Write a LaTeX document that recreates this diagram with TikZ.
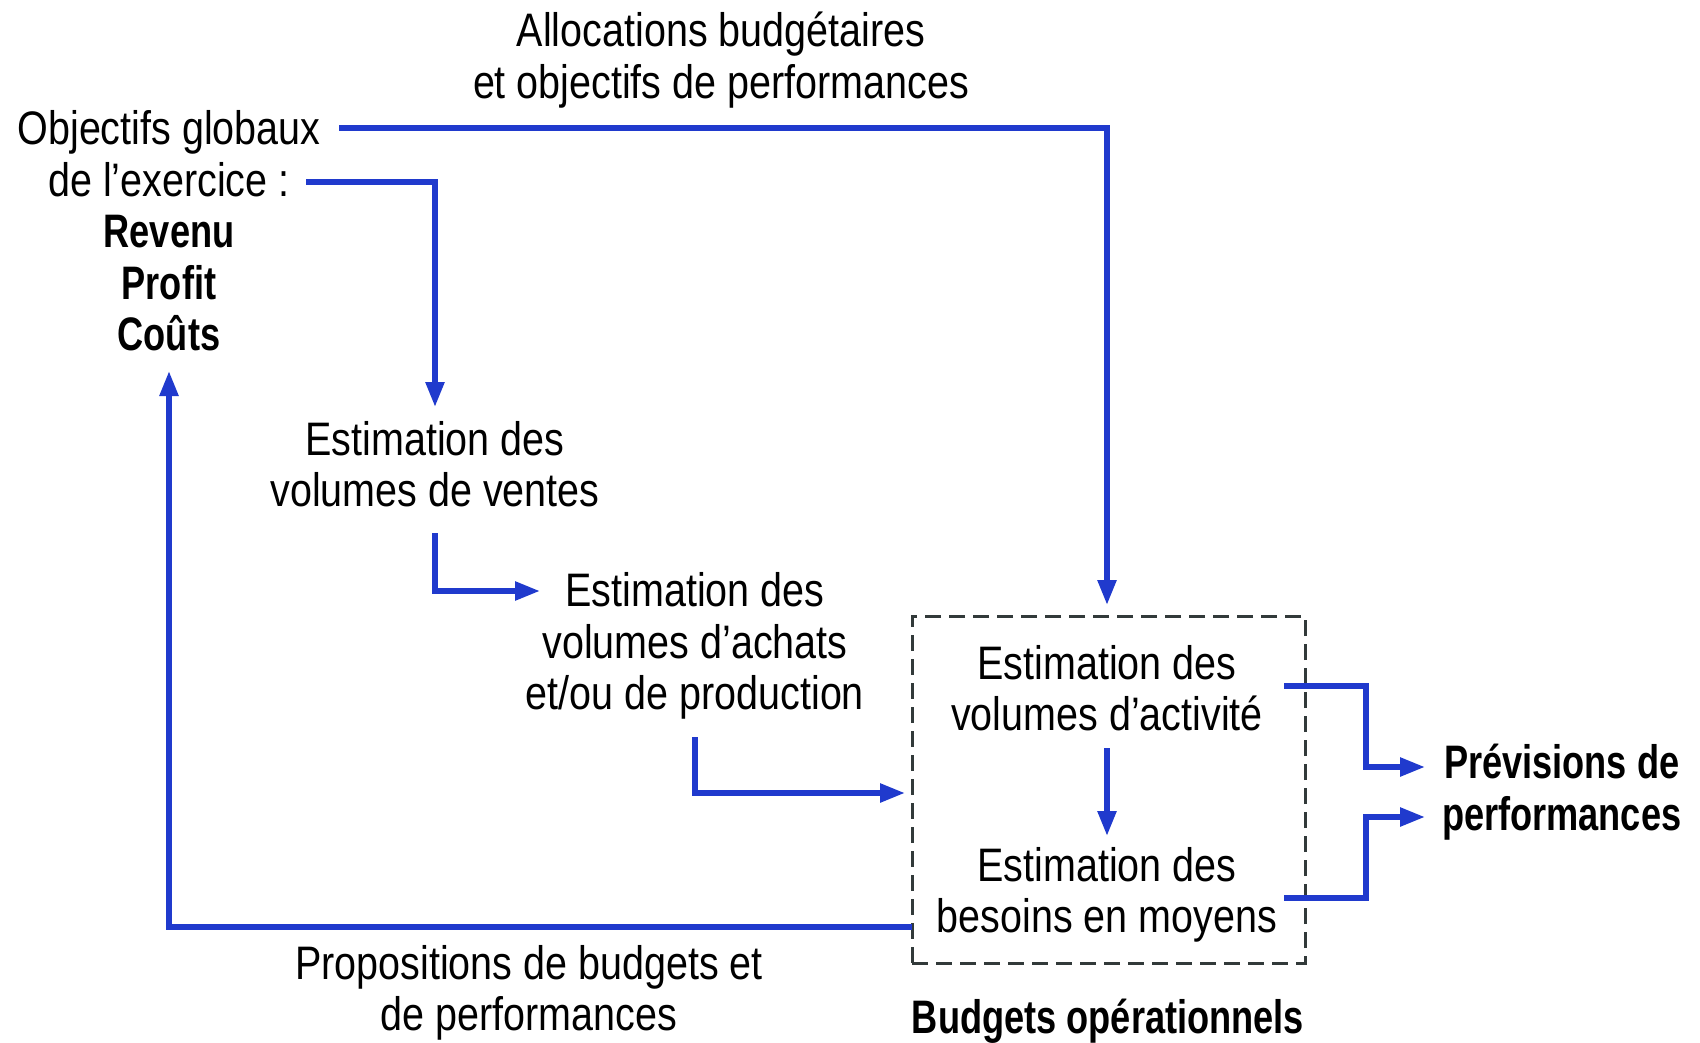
\documentclass[tikz,border=0pt]{standalone}
\usepackage{fontspec}
\setmainfont{Liberation Sans}[FakeStretch=0.84, BoldFeatures={FakeStretch=0.77}]
\usetikzlibrary{arrows.meta}
\definecolor{flow}{RGB}{32,58,205}
\definecolor{frame}{RGB}{50,58,58}
\begin{document}
\begin{tikzpicture}[x=1pt,y=-1pt,
  every node/.style={inner sep=0pt, outer sep=0pt},
  txt/.style={align=center, font=\fontsize{47}{51.5}\selectfont},
  link/.style={draw=flow, line width=5.5pt},
  arr/.style={link, -{Triangle[length=25pt,width=18pt]}},
  group/.style={draw=frame, line width=3pt, dash pattern=on 16pt off 8pt}]
\useasboundingbox (0,0) rectangle (1700,1043);

% texts
\node[txt] (alloc) at (721,60) {Allocations budgétaires\\et objectifs de performances};
\node[txt] (obj) at (169,231) {Objectifs globaux\\de l’exercice :\\\textbf{Revenu}\\\textbf{Profit}\\\textbf{Coûts}};
\node[txt] (ventes) at (435,464) {Estimation des\\volumes de ventes};
\node[txt] (achats) at (695,646) {Estimation des\\volumes d’achats\\et/ou de production};
\node[txt] (act) at (1107,688) {Estimation des\\volumes d’activité};
\node[txt] (moy) at (1107,895) {Estimation des\\besoins en moyens};
\node[txt, anchor=west] (prev) at (1442,792) {\textbf{Prévisions de}\\\textbf{performances}};
\node[txt] (prop) at (529,993) {Propositions de budgets et\\de performances};
\node[txt] (ops) at (1108,1021) {\textbf{Budgets opérationnels}};

% dashed group of operational budgets
\node[group, minimum width=393pt, minimum height=347pt] (box) at (1108.5,789.5) {};

% connector ends
\coordinate (o1) at (339,128);
\coordinate (o2) at (306,182);
\coordinate (t1) at (1107,605);
\coordinate (t2) at (435,407);
\coordinate (v1) at (435,533);
\coordinate (a0) at (540,591);
\coordinate (a1) at (695,737);
\coordinate (b0) at (905,793);
\coordinate (m0) at (1107,748);
\coordinate (m1) at (1107,836);
\coordinate (r1) at (1284,686);
\coordinate (r2) at (1284,898);
\coordinate (p1) at (1425,767);
\coordinate (p2) at (1425,817);
\coordinate (f0) at (912,927);
\coordinate (f1) at (169,371);

% connectors
\draw[arr] (o1) -| (t1);
\draw[arr] (o2) -| (t2);
\draw[arr] (v1) |- (a0);
\draw[arr] (a1) |- (b0);
\draw[arr] (m0) -- (m1);
\draw[arr] (r1) -| (1366,767) -- (p1);
\draw[arr] (r2) -| (1366,817) -- (p2);
\draw[arr] (f0) -| (f1);
\end{tikzpicture}
\end{document}
